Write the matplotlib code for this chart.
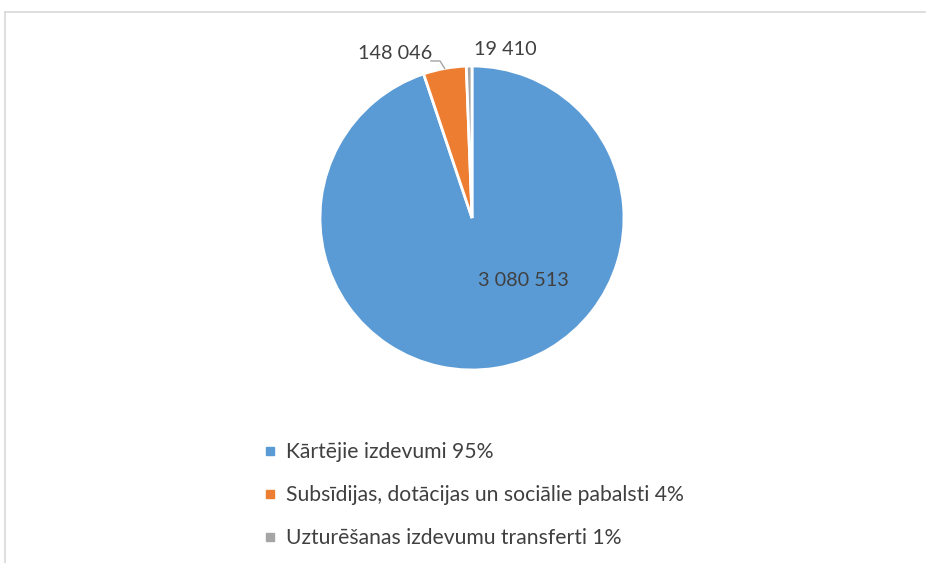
import numpy as np
import matplotlib
matplotlib.use("Agg")
import matplotlib.pyplot as plt
from matplotlib.lines import Line2D

plt.rcParams['font.family'] = ['Lato', 'DejaVu Sans']

categories = ["Kārtējie izdevumi 95%",
              "Subsīdijas, dotācijas un sociālie pabalsti 4%",
              "Uzturēšanas izdevumu transferti 1%"]
values = [3080513, 148046, 19410]
value_labels = ["3 080 513", "148 046", "19 410"]
colors = ["#5B9BD5", "#ED7D31", "#A5A5A5"]
textColor = "#404040"

fig = plt.figure(figsize=(9.26, 5.63), dpi=100)

# pie axes: centre at (472, 218) px, radius ~152 px
side = 2 * 152 * 1.3
ax = fig.add_axes([(472 - side / 2) / 926, (563 - 218 - side / 2) / 563, side / 926, side / 563])
wedges, _ = ax.pie(values, colors=colors, startangle=90, counterclock=False,
                   wedgeprops=dict(edgecolor="white", linewidth=2))
ax.set_xlim(-1.3, 1.3)
ax.set_ylim(-1.3, 1.3)
ax.set_aspect("equal")
ax.axis("off")

# data labels
ax.text(0.335, -0.41, value_labels[0], ha="center", va="center", fontsize=14.3, color=textColor)
ax.text(-0.505, 1.085, value_labels[1], ha="center", va="center", fontsize=14.3, color=textColor)
ax.text(0.22, 1.11, value_labels[2], ha="center", va="center", fontsize=14.3, color=textColor)

# leader line for the orange slice
w = wedges[1]
mid = np.deg2rad((w.theta1 + w.theta2) / 2)
px, py = np.cos(mid), np.sin(mid)
ax.plot([-0.27, -0.21, px], [1.033, 1.033, py], color="#A5A5A5", linewidth=1, clip_on=False)

handles = [Line2D([], [], marker="s", linestyle="", markersize=6, color=c) for c in colors]
fig.legend(handles, categories, loc="upper left", bbox_to_anchor=(262 / 926, 1 - 442 / 563),
           frameon=False, fontsize=15.2, labelcolor=textColor, labelspacing=1.1,
           handlelength=0.8, handletextpad=0.35, borderpad=0, borderaxespad=0)

# chart area border (top and left edges visible)
fig.add_artist(Line2D([4.5 / 926, 1], [1 - 11.5 / 563, 1 - 11.5 / 563], color="#D9D9D9", linewidth=1.2))
fig.add_artist(Line2D([4.5 / 926, 4.5 / 926], [0, 1 - 11.5 / 563], color="#D9D9D9", linewidth=1.2))

fig.savefig("out.png", dpi=100, facecolor="white")
